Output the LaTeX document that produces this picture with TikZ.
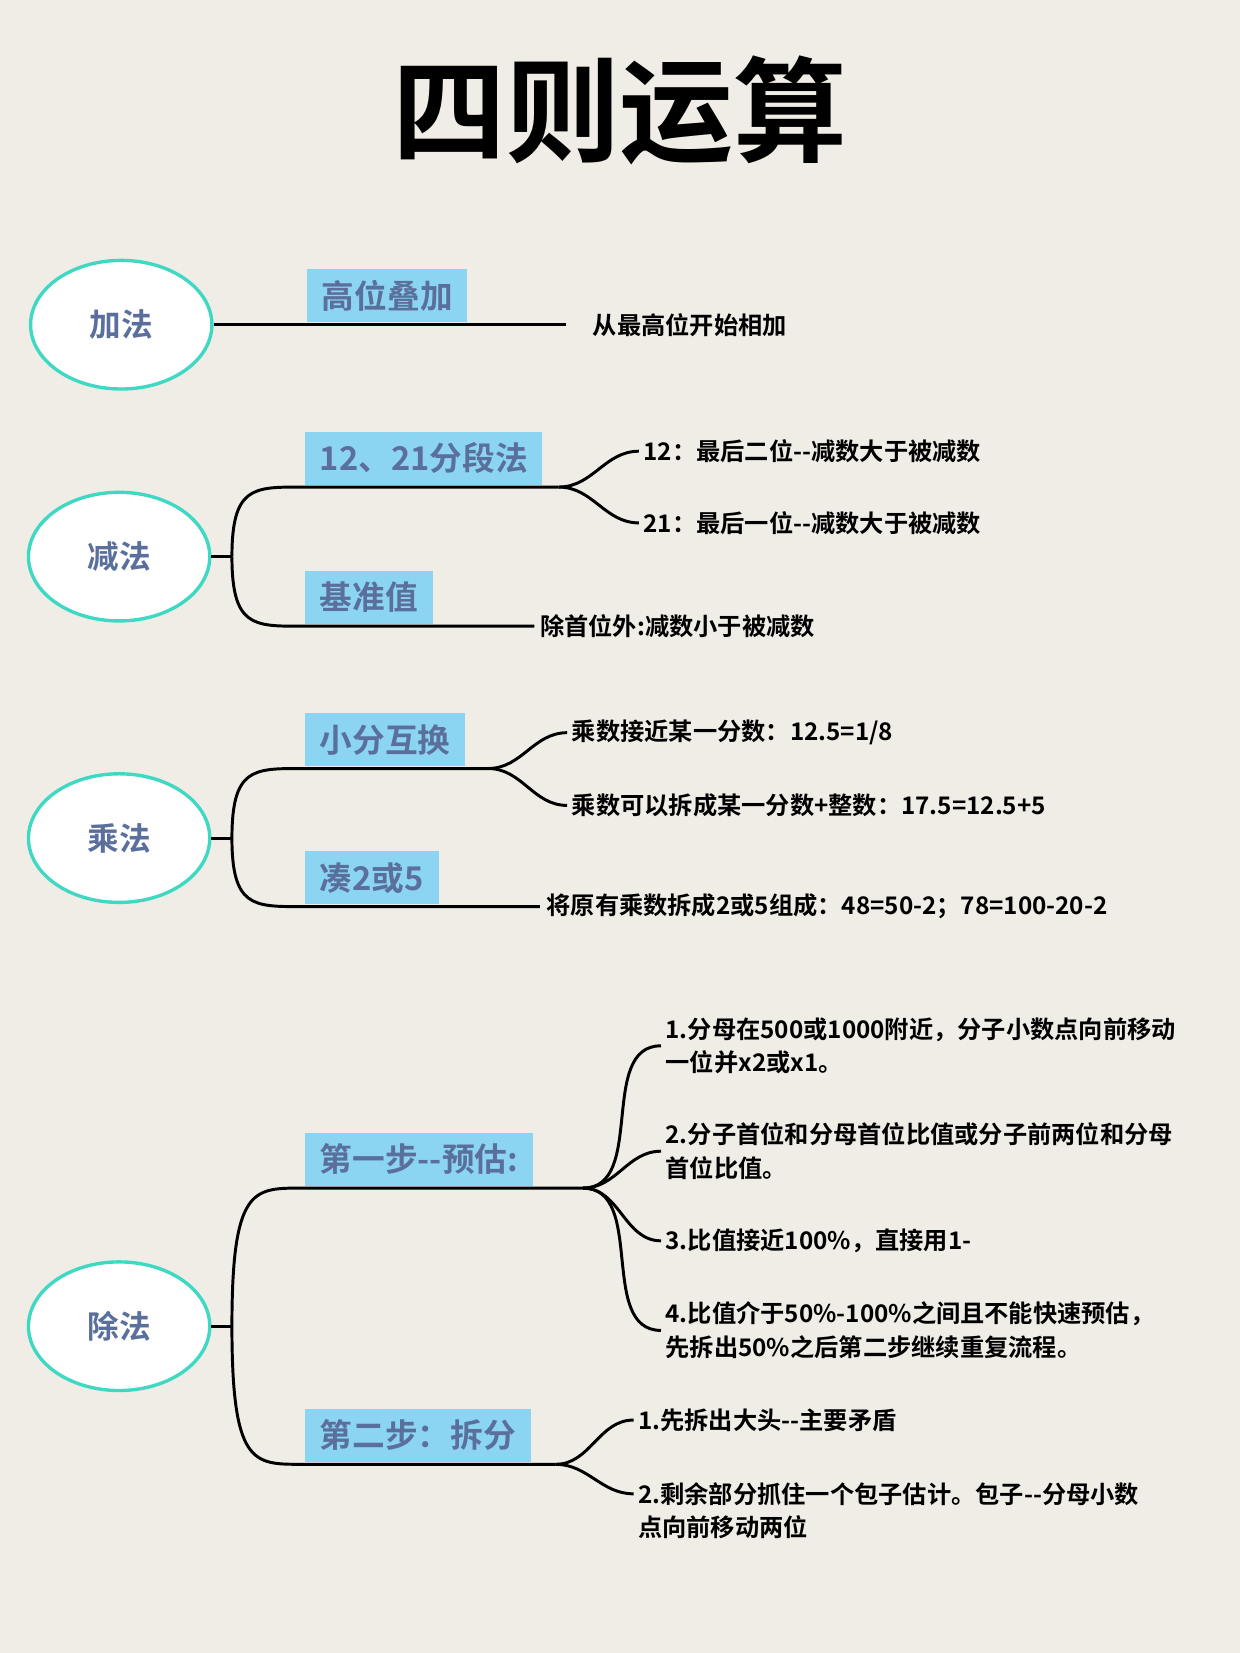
\documentclass[tikz,border=0pt]{standalone}
\usepackage{fontspec}
\newfontfamily\cjk{Noto Sans CJK SC}[BoldFont={Noto Sans CJK SC Bold}]
\definecolor{bg}{HTML}{F0ECE6}
\definecolor{teal}{HTML}{3ED8C3}
\definecolor{boxc}{HTML}{8CD5F2}
\definecolor{lbl}{HTML}{5A6F9C}
\usetikzlibrary{shapes.geometric}
\begin{document}
\begin{tikzpicture}[x=0.5pt,y=-0.5pt,
  oval/.style={ellipse,draw=teal,line width=1.6pt,fill=white,minimum width=86pt,minimum height=61pt,font=\cjk\bfseries\fontsize{15}{18}\selectfont,text=lbl},
  tag/.style={fill=boxc,anchor=south west,inner xsep=7pt,inner ysep=3pt,minimum height=25pt,font=\cjk\bfseries\fontsize{15.5}{18}\selectfont,text=lbl},
  item/.style={anchor=west,font=\cjk\bfseries\fontsize{11.5}{16}\selectfont,align=left,inner sep=2pt},
  ln/.style={line width=1.4pt,black}]
\fill[bg] (0,0) rectangle (1176,1568);
\useasboundingbox (0,0) rectangle (1176,1568);
\node[font=\cjk\bfseries\fontsize{54}{60}\selectfont] (title) at (588,105) {四则运算};

% 加法
\node[oval] (add) at (115,308) {加法};
\coordinate (a1) at (537,308);
\draw[ln] (add.east) -- (a1);
\node[tag] (tadd) at (291,306) {高位叠加};
\node[item] (iadd) at (558,308) {从最高位开始相加};

% 减法
\node[oval] (sub) at (113,528) {减法};
\coordinate (s0) at (220,528);
\coordinate (su) at (285,462); \coordinate (sue) at (530,462);
\coordinate (sd) at (285,594); \coordinate (sde) at (507,594);
\draw[ln] (sub.east) -- (s0);
\draw[ln] (s0) .. controls (220,462) and (240,462) .. (su) -- (sue);
\draw[ln] (s0) .. controls (220,594) and (240,594) .. (sd) -- (sde);
\node[tag] (tsub1) at (289,460) {12、21分段法};
\node[tag] (tsub2) at (289,592) {基准值};
\node[item] (isub1) at (606,428) {12：最后二位-{}-减数大于被减数};
\node[item] (isub2) at (606,496) {21：最后一位-{}-减数大于被减数};
\draw[ln] (sue) to[out=0,in=180] (isub1.west);
\draw[ln] (sue) to[out=0,in=180] (isub2.west);
\node[item] (isub3) at (508,594) {除首位外:减数小于被减数};

% 乘法
\node[oval] (mul) at (113,795) {乘法};
\coordinate (m0) at (220,795);
\coordinate (mu) at (285,729); \coordinate (mue) at (463,729);
\coordinate (md) at (285,860); \coordinate (mde) at (512,860);
\draw[ln] (mul.east) -- (m0);
\draw[ln] (m0) .. controls (220,729) and (240,729) .. (mu) -- (mue);
\draw[ln] (m0) .. controls (220,860) and (240,860) .. (md) -- (mde);
\node[tag] (tmul1) at (289,727) {小分互换};
\node[tag] (tmul2) at (289,858) {凑2或5};
\node[item] (imul1) at (538,695) {乘数接近某一分数：12.5=1/8};
\node[item] (imul2) at (538,764) {乘数可以拆成某一分数+整数：17.5=12.5+5};
\draw[ln] (mue) to[out=0,in=180] (imul1.west);
\draw[ln] (mue) to[out=0,in=180] (imul2.west);
\node[item] (imul3) at (514,860) {将原有乘数拆成2或5组成：48=50-2；78=100-20-2};

% 除法
\node[oval] (dv) at (113,1258) {除法};
\coordinate (d0) at (220,1258);
\coordinate (du) at (285,1127); \coordinate (due) at (553,1127);
\coordinate (dd) at (285,1389); \coordinate (dde) at (527,1389);
\draw[ln] (dv.east) -- (d0);
\draw[ln] (d0) .. controls (220,1127) and (240,1127) .. (du) -- (due);
\draw[ln] (d0) .. controls (220,1389) and (240,1389) .. (dd) -- (dde);
\node[tag] (tdv1) at (289,1125) {第一步-{}-预估:};
\node[tag] (tdv2) at (289,1387) {第二步：拆分};
\node[item] (idv1) at (627,992) {1.分母在500或1000附近，分子小数点向前移动\\一位并x2或x1。};
\node[item] (idv2) at (627,1092) {2.分子首位和分母首位比值或分子前两位和分母\\首位比值。};
\node[item] (idv3) at (627,1177) {3.比值接近100\%，直接用1-};
\node[item] (idv4) at (627,1262) {4.比值介于50\%-100\%之间且不能快速预估，\\先拆出50\%之后第二步继续重复流程。};
\foreach \n in {idv1,idv2,idv3,idv4} \draw[ln] (due) to[out=0,in=180] (\n.west);
\node[item] (idv5) at (601,1347) {1.先拆出大头-{}-主要矛盾};
\node[item] (idv6) at (601,1433) {2.剩余部分抓住一个包子估计。包子-{}-分母小数\\点向前移动两位};
\draw[ln] (dde) to[out=0,in=180] (idv5.west);
\draw[ln] (dde) to[out=0,in=180] ([yshift=8]idv6.west);
\end{tikzpicture}
\end{document}
